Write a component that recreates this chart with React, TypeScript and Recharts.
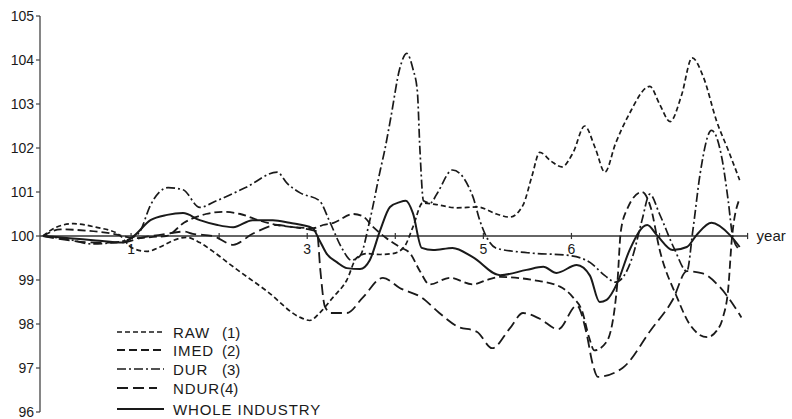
import React from "react";
import { LineChart, Line, XAxis, YAxis, ReferenceLine, Legend } from "recharts";

// years along x, index (start = 100) along y
const rawT = [0, 0.15, 0.35, 0.6, 0.85, 1.02, 1.18, 1.33, 1.48, 1.63, 1.78, 1.93, 2.16, 2.54, 2.92, 3.03, 3.14, 3.29, 3.45, 3.56, 3.68, 3.83, 3.97, 4.1, 4.2, 4.31, 4.45, 4.7, 4.93, 5.15, 5.3, 5.45, 5.55, 5.64, 5.77, 5.89, 6.02, 6.15, 6.27, 6.38, 6.5, 6.65, 6.89, 7.0, 7.12, 7.25, 7.37, 7.5, 7.65, 7.78, 7.91];
const rawV = [100, 100.2, 100.28, 100.2, 100.05, 99.72, 99.65, 99.75, 99.9, 99.97, 99.85, 99.65, 99.3, 98.75, 98.15, 98.08, 98.25, 98.6, 99.0, 99.5, 99.6, 99.58, 99.6, 99.75, 100.2, 100.75, 100.72, 100.64, 100.66, 100.5, 100.43, 100.7, 101.35, 101.9, 101.7, 101.57, 101.9, 102.5, 102.0, 101.45, 102.1, 102.75, 103.4, 103.0, 102.6, 103.2, 104.05, 103.6, 102.6, 101.95, 101.27];

const imedT = [0, 0.2, 0.5, 0.8, 1.05, 1.25, 1.4, 1.6, 1.85, 2.05, 2.24, 2.46, 2.66, 2.84, 3.07, 3.18, 3.3, 3.52, 3.63, 3.75, 3.9, 4.05, 4.17, 4.28, 4.39, 4.62, 4.88, 5.04, 5.19, 5.56, 5.87, 6.02, 6.12, 6.2, 6.26, 6.4, 6.52, 6.56, 6.63, 6.8, 6.9, 7.0, 7.2, 7.34, 7.54, 7.65, 7.72, 7.78, 7.82, 7.9];
const imedV = [100, 100.15, 100.12, 100.05, 99.95, 99.98, 100.0, 100.3, 100.5, 100.55, 100.5, 100.35, 100.25, 100.2, 100.18, 100.25, 100.3, 100.5, 100.45, 100.2, 99.95, 99.75, 99.6, 99.2, 98.9, 99.05, 98.9, 99.0, 99.07, 99.0, 98.85, 98.6, 98.3, 97.7, 97.4, 97.6, 98.9, 100.1, 100.6, 101.0, 100.65, 99.7, 98.6, 98.0, 97.7, 97.85, 98.15, 98.8, 99.9, 100.8];

const durT = [0, 0.3, 0.55, 0.8, 1.0, 1.1, 1.22, 1.42, 1.59, 1.78, 1.97, 2.3, 2.66, 2.77, 2.92, 3.14, 3.25, 3.4, 3.5, 3.6, 3.71, 3.83, 3.88, 3.95, 4.05, 4.13, 4.2, 4.25, 4.28, 4.32, 4.4, 4.47, 4.65, 4.88, 4.96, 5.03, 5.15, 5.5, 6.0, 6.21, 6.38, 6.5, 6.7, 6.8, 6.89, 7.0, 7.17, 7.31, 7.38, 7.46, 7.59, 7.71, 7.78, 7.83, 7.9];
const durV = [100, 99.92, 99.82, 99.85, 99.95, 100.1, 100.7, 101.1, 101.05, 100.65, 100.8, 101.1, 101.45, 101.2, 100.98, 100.8, 100.35, 99.7, 99.45, 99.55, 100.35, 101.5, 101.95, 102.7, 103.8, 104.15, 103.8, 103.3, 101.95, 100.8, 100.75, 100.95, 101.5, 100.9, 100.35, 100.0, 99.72, 99.62, 99.55, 99.4, 99.1, 98.95, 99.57, 100.35, 100.95, 100.5, 99.7, 99.2, 100.15, 101.4, 102.4, 101.75, 100.8, 100.0, 99.7];

const ndurT = [0, 0.3, 0.6, 0.9, 1.1, 1.4, 1.6, 1.7, 1.93, 2.16, 2.38, 2.66, 2.84, 3.02, 3.11, 3.15, 3.2, 3.27, 3.45, 3.63, 3.86, 4.05, 4.3, 4.5, 4.7, 4.93, 5.1, 5.3, 5.45, 5.64, 5.85, 6.06, 6.17, 6.24, 6.3, 6.58, 6.9, 7.15, 7.31, 7.49, 7.68, 7.93];
const ndurV = [100, 99.9, 99.85, 99.85, 99.95, 100.05, 100.1, 100.05, 100.0, 99.8, 100.05, 100.25, 100.2, 100.15, 100.1, 99.2, 98.4, 98.25, 98.25, 98.6, 99.05, 98.82, 98.6, 98.25, 97.95, 97.82, 97.45, 97.9, 98.25, 98.12, 97.88, 98.42, 97.8, 97.1, 96.8, 97.0, 97.86, 98.55, 99.2, 99.15, 98.85, 98.15];

const wholeT = [0, 0.3, 0.6, 0.9, 1.02, 1.22, 1.41, 1.59, 1.78, 1.98, 2.16, 2.38, 2.61, 2.8, 3.06, 3.14, 3.22, 3.34, 3.45, 3.6, 3.71, 3.83, 3.94, 4.05, 4.12, 4.2, 4.3, 4.43, 4.65, 4.88, 5.19, 5.49, 5.68, 5.83, 6.06, 6.21, 6.32, 6.4, 6.52, 6.66, 6.86, 6.97, 7.15, 7.31, 7.42, 7.59, 7.8, 7.91];
const wholeV = [100, 99.95, 99.9, 99.85, 99.98, 100.36, 100.48, 100.52, 100.36, 100.25, 100.2, 100.36, 100.36, 100.3, 100.18, 99.9, 99.6, 99.4, 99.27, 99.25, 99.45, 100.14, 100.66, 100.77, 100.8, 100.52, 99.73, 99.68, 99.73, 99.52, 99.11, 99.23, 99.3, 99.16, 99.34, 99.1, 98.5, 98.55, 98.93, 99.68, 100.25, 100.02, 99.68, 99.75, 100.02, 100.3, 100.02, 99.75];

const yTicks = [96, 97, 98, 99, 100, 101, 102, 103, 104, 105];
const xTicks = [1, 2, 3, 4, 5, 6, 7, 8];
const xTickLabels = ["1", "", "3", "", "5", "6", "", ""];

const INK = "#1a1a1a";
const FONT = "'Liberation Sans', Arial, Helvetica, sans-serif";

const toRows = (t: number[], v: number[]) => t.map((x, i) => ({ t: x, v: v[i] }));

const series = [
  { key: "raw", name: "RAW", num: "(1)", data: toRows(rawT, rawV), dash: "5 3", width: 1.7, legendLen: 46 },
  { key: "imed", name: "IMED", num: "(2)", data: toRows(imedT, imedV), dash: "8 4", width: 1.8, legendLen: 47 },
  { key: "dur", name: "DUR", num: "(3)", data: toRows(durT, durV), dash: "9 3 2 3", width: 1.7, legendLen: 47 },
  { key: "ndur", name: "NDUR", num: "(4)", data: toRows(ndurT, ndurV), dash: "11 5", width: 1.8, legendLen: 40 },
  { key: "whole", name: "WHOLE INDUSTRY", num: "", data: toRows(wholeT, wholeV), dash: undefined, width: 2.0, legendLen: 47 },
];

const legendRowY = [10, 28, 47, 66, 87];

const LegendBox = () => (
  <svg width={270} height={100} style={{ display: "block" }}>
    {series.map((s, i) => {
      const y = legendRowY[i];
      return (
        <g key={s.key}>
          <line x1={7} x2={7 + s.legendLen} y1={y} y2={y} stroke={INK}
            strokeWidth={s.width} strokeDasharray={s.dash} />
          <text x={63} y={y} dominantBaseline="central" fontSize={15} letterSpacing={0.9}
            fill={INK} fontFamily={FONT}>{s.name}</text>
          {s.num && (
            <text x={s.key === "ndur" ? 110 : 112} y={y} dominantBaseline="central" fontSize={15}
              fill={INK} fontFamily={FONT}>{s.num}</text>
          )}
        </g>
      );
    })}
  </svg>
);

export default function App() {
  return (
    <div style={{ position: "absolute", left: 0, top: 0, width: 792, height: 419, background: "#fff", fontFamily: FONT }}>
      <LineChart width={792} height={419} margin={{ top: 16, right: 40, bottom: 7, left: 0 }}>
        <XAxis dataKey="t" type="number" domain={[-0.034, 8.05]} hide allowDataOverflow />
        <YAxis
          type="number"
          domain={[96, 105]}
          ticks={yTicks}
          width={40}
          interval={0}
          tick={{ fill: INK, fontSize: 14, fontFamily: FONT }}
          tickSize={4}
          tickMargin={2}
          axisLine={{ stroke: "#444", strokeWidth: 1.3 }}
          tickLine={{ stroke: "#444", strokeWidth: 1.2 }}
          allowDataOverflow
        />
        <ReferenceLine
          segment={[{ x: -0.034, y: 100 }, { x: 8.0, y: 100 }]}
          stroke="#333"
          strokeWidth={1.3}
          label={{ value: "year", position: "right", offset: 9, fill: INK, fontSize: 15, fontFamily: FONT }}
        />
        {xTicks.map((t, i) => (
          <ReferenceLine
            key={t}
            segment={[{ x: t, y: 100.07 }, { x: t, y: 99.93 }]}
            stroke="#333"
            strokeWidth={1.2}
            label={xTickLabels[i] ? { value: xTickLabels[i], position: "bottom", offset: 5, fill: INK, fontSize: 14, fontFamily: FONT } : undefined}
          />
        ))}
        {series.map((s) => (
          <Line
            key={s.key}
            data={s.data}
            dataKey="v"
            name={s.name}
            type="monotone"
            stroke={INK}
            strokeWidth={s.width}
            strokeDasharray={s.dash}
            dot={false}
            activeDot={false}
            isAnimationActive={false}
          />
        ))}
        <Legend
          layout="vertical"
          align="center"
          verticalAlign="middle"
          content={() => <LegendBox />}
          wrapperStyle={{ position: "absolute", left: 110, top: 322, width: 270, height: 100 }}
        />
      </LineChart>
    </div>
  );
}
